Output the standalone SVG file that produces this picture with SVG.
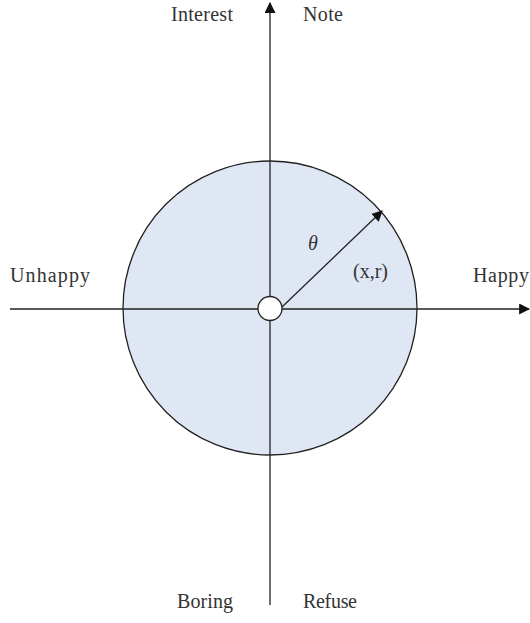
<svg xmlns="http://www.w3.org/2000/svg" width="530" height="623" viewBox="0 0 530 623">
<style>
text{font-family:"Liberation Serif","DejaVu Serif",serif;font-size:20px;fill:#333}
.ln{stroke:#222;stroke-width:1.3;fill:none}
</style>
<defs>
<marker id="ah" viewBox="0 0 10 10" refX="9" refY="5" markerWidth="11" markerHeight="11" markerUnits="userSpaceOnUse" orient="auto">
<path d="M0,0 L10,5 L0,10 Z" fill="#111"/>
</marker>
</defs>
<rect width="530" height="623" fill="#fff"/>
<g id="region"><circle cx="270" cy="308" r="147" fill="#dfe7f4" stroke="#222" stroke-width="1.3"/></g>
<g id="connectors">
<line class="ln" x1="270" y1="605" x2="270" y2="3" marker-end="url(#ah)"/>
<line class="ln" x1="10" y1="309" x2="529" y2="309" marker-end="url(#ah)"/>
<line class="ln" x1="282" y1="307" x2="382" y2="211" marker-end="url(#ah)"/>
</g>
<g id="origin"><circle cx="270" cy="308.5" r="12" fill="#fff" stroke="#222" stroke-width="1.3"/></g>
<g id="labels">
<text x="171" y="21" textLength="62">Interest</text>
<text x="303" y="21" textLength="40">Note</text>
<text x="10" y="282" textLength="80">Unhappy</text>
<text x="473" y="282" textLength="56">Happy</text>
<text x="177" y="608" textLength="56">Boring</text>
<text x="303" y="608" textLength="54">Refuse</text>
<text x="308" y="250" font-style="italic">θ</text>
<text x="353" y="278" textLength="35">(x,r)</text>
</g>
</svg>
